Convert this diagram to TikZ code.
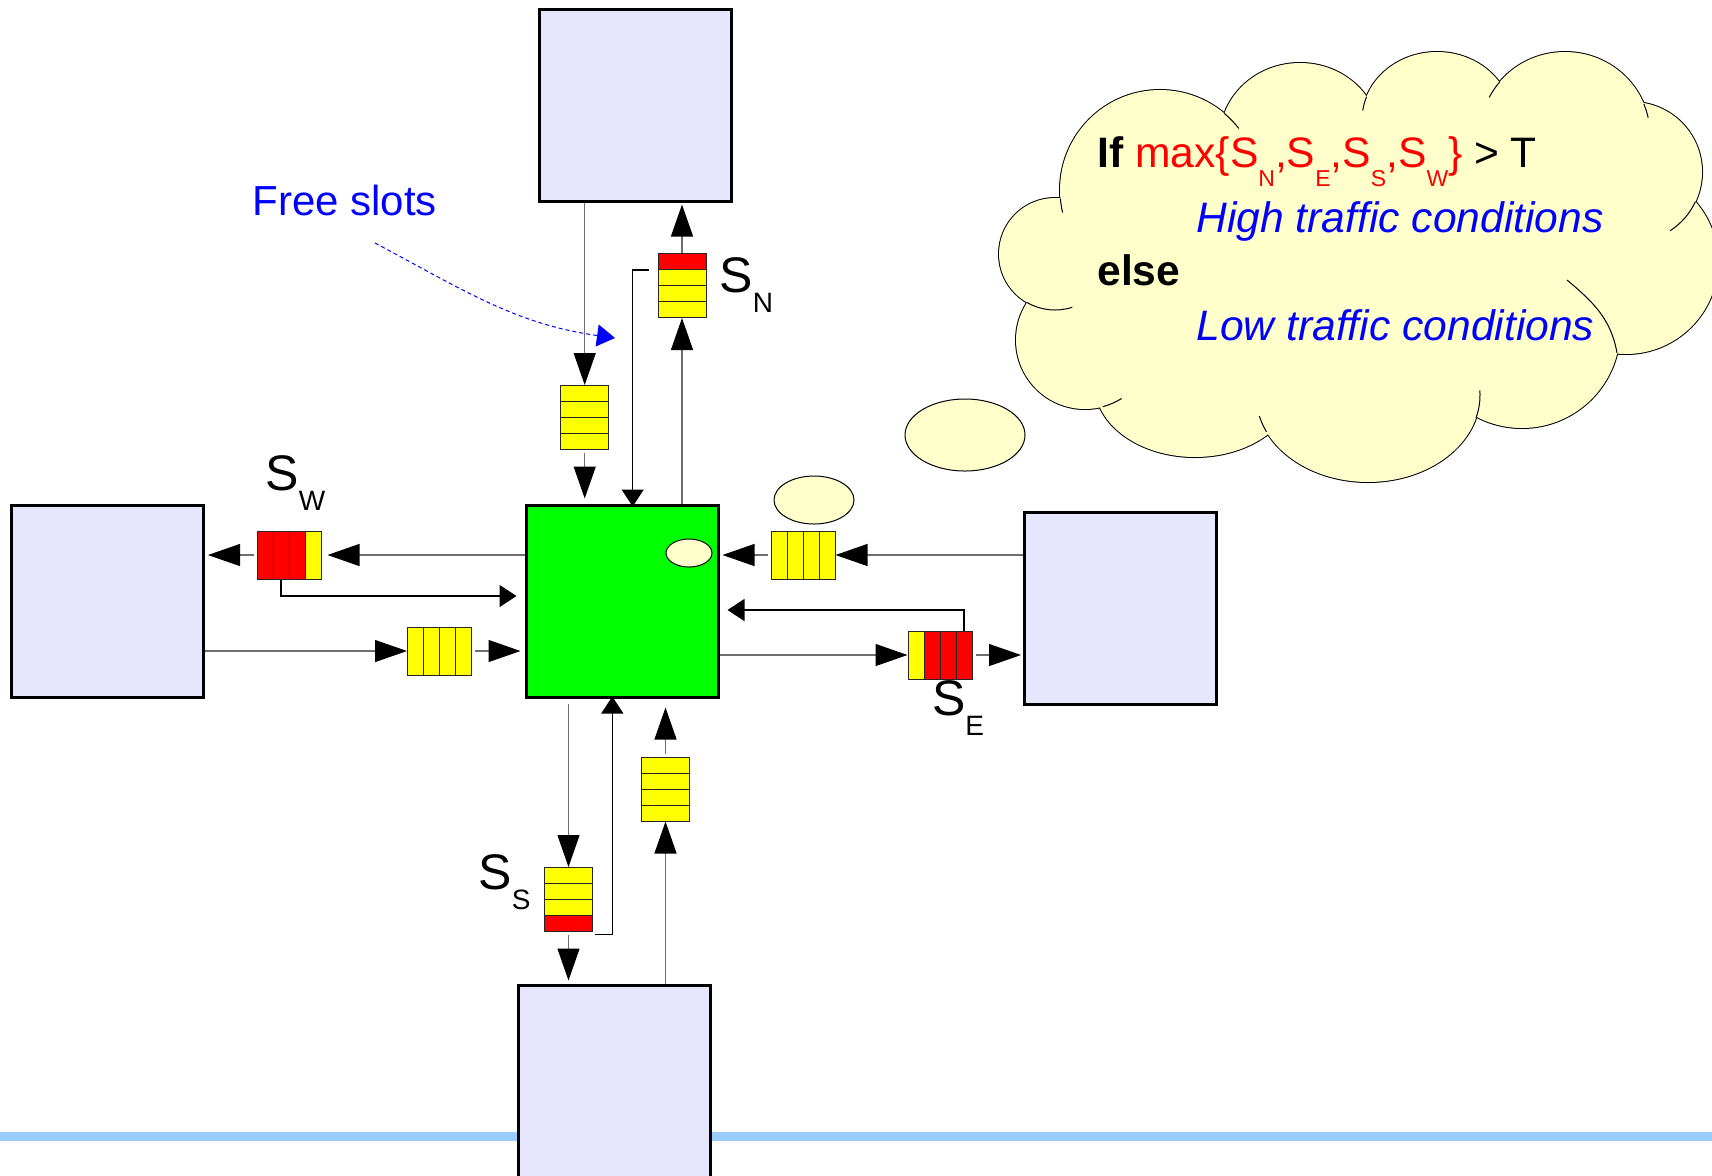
\documentclass[tikz,border=0pt]{standalone}
\usepackage{fontspec}
\setmainfont{Liberation Sans}
\usetikzlibrary{arrows.meta}
\definecolor{lav}{HTML}{E6E6FF}
\definecolor{grn}{HTML}{00FF00}
\definecolor{qy}{HTML}{FFFF00}
\definecolor{qr}{HTML}{FF0000}
\definecolor{cloudy}{HTML}{FFFFCC}
\definecolor{barblue}{HTML}{99CCFF}
\definecolor{fgblue}{HTML}{0000FF}
\definecolor{flowgray}{HTML}{6E6E6E}
\newcommand{\lsub}[1]{\raisebox{-10pt}{\fontsize{14}{14}\selectfont #1}}
\newcommand{\csub}[1]{\raisebox{-9.5pt}{\fontsize{11.5}{11.5}\selectfont #1}}
\newcommand{\vqueue}[7]{%
  \node[slot,fill=#4,minimum width=24pt,minimum height=8pt] (#1-1) at (#2,#3-24) {};
  \node[slot,fill=#5,minimum width=24pt,minimum height=8pt] (#1-2) at (#2,#3-8) {};
  \node[slot,fill=#6,minimum width=24pt,minimum height=8pt] (#1-3) at (#2,#3+8) {};
  \node[slot,fill=#7,minimum width=24pt,minimum height=8pt] (#1-4) at (#2,#3+24) {};
  \node[qframe,minimum width=24pt,minimum height=32pt] (#1) at (#2,#3) {};}
\newcommand{\hqueue}[7]{%
  \node[slot,fill=#4,minimum width=8pt,minimum height=24pt] (#1-1) at (#2-24,#3) {};
  \node[slot,fill=#5,minimum width=8pt,minimum height=24pt] (#1-2) at (#2-8,#3) {};
  \node[slot,fill=#6,minimum width=8pt,minimum height=24pt] (#1-3) at (#2+8,#3) {};
  \node[slot,fill=#7,minimum width=8pt,minimum height=24pt] (#1-4) at (#2+24,#3) {};
  \node[qframe,minimum width=32pt,minimum height=24pt] (#1) at (#2,#3) {};}
\tikzset{
  box/.style={draw=black,line width=1.5pt,fill=lav,minimum width=96pt,minimum height=96pt,inner sep=0pt},
  slot/.style={draw=black!85,line width=0.5pt,inner sep=0pt,rectangle},
  qframe/.style={draw=black!85,line width=0.5pt,inner sep=0pt,rectangle},
  flow/.style={draw=flowgray,line width=0.6pt,-{Triangle[length=16pt,width=11pt,color=black]}},
  fb/.style={draw=black,line width=0.6pt,-{Triangle[length=8.5pt,width=11pt]}},
  lbl/.style={anchor=base west,inner sep=0pt,font=\fontsize{25}{30}\selectfont},
  ctext/.style={anchor=base west,inner sep=0pt,font=\fontsize{21.3}{25}\selectfont},
  bubble/.style={draw=black,line width=0.5pt,fill=cloudy},
  cusp/.style={draw=black,line width=0.5pt}
}
\begin{document}
\begin{tikzpicture}[x=0.5pt,y=-0.5pt]
\useasboundingbox[fill=white] (0,0) rectangle (1712,1175);
% bottom bar
\coordinate (barL) at (0,1136.5);
\coordinate (barR) at (1712,1136.5);
\draw[barblue,line width=4.5pt] (barL) -- (barR);
% thought cloud: outline = union of bumps
\def\bumps{1055/254/28/28,1160/190/50/50,1300/138/40/37.5,1437/120/37.5/34,1565/135/42.5/41.5,1632/172/35/35,1626/262/46/46,1522/330/49/49,1368/395/56/43.5,1195/385/50/36,1085/340/34.5/34.5}
\foreach \cx/\cy/\rx/\ry in \bumps
  \draw[black,line width=1pt] (\cx,\cy) ellipse [x radius=\rx pt,y radius=\ry pt];
\foreach \cx/\cy/\rx/\ry in \bumps
  \fill[cloudy] (\cx,\cy) ellipse [x radius=\rx pt,y radius=\ry pt];
\fill[cloudy] (1070,230) -- (1100,330) -- (1180,370) -- (1300,390) -- (1470,370) -- (1600,320) -- (1660,230) -- (1620,140) -- (1480,110) -- (1360,120) -- (1230,130) -- (1110,180) -- cycle;
% inner ends of the bump arcs
\draw[cusp] (1160,190) ++(185:50pt) arc[start angle=185,end angle=193,radius=50pt];
\draw[cusp] (1160,190) ++(50:50pt) arc[start angle=50,end angle=38,radius=50pt];
\draw[cusp] (1437,120) ++(160:37.5pt and 34pt) arc[start angle=160,end angle=172,x radius=37.5pt,y radius=34pt];
\draw[cusp] (1565,135) ++(140:42.5pt and 41.5pt) arc[start angle=140,end angle=153,x radius=42.5pt,y radius=41.5pt];
\draw[cusp] (1565,135) ++(22:42.5pt and 41.5pt) arc[start angle=22,end angle=12,x radius=42.5pt,y radius=41.5pt];
\draw[cusp] (1632,172) ++(-25:35pt) arc[start angle=-25,end angle=-57,radius=35pt];
\coordinate (brA) at (1617,353);
\coordinate (brB) at (1567,280);
\draw[cusp] (brA) to[out=100,in=-40] (brB);
\draw[cusp] (1368,395) ++(-15.5:56pt and 43.5pt) arc[start angle=-15.5,end angle=3,x radius=56pt,y radius=43.5pt];
\draw[cusp] (1368,395) ++(-155:56pt and 43.5pt) arc[start angle=-155,end angle=-166,x radius=56pt,y radius=43.5pt];
\draw[cusp] (1085,340) ++(-75:34.5pt) arc[start angle=-75,end angle=-58,radius=34.5pt];
\draw[cusp] (1055,254) ++(-120:28pt) arc[start angle=-120,end angle=-72,radius=28pt];
\draw[bubble] (965,435) ellipse [x radius=30pt,y radius=18pt];
\draw[bubble] (814,500) ellipse [x radius=20pt,y radius=12pt];
% cloud text
\node[ctext] (c1) at (1097,167) {\textbf{If} \textcolor{qr}{max\{S\csub{N},S\csub{E},S\csub{S},S\csub{W}\}} > T};
\node[ctext,text=fgblue] (c2) at (1196,232) {\itshape High traffic conditions};
\node[ctext] (c3) at (1097,285) {\textbf{else}};
\node[ctext,text=fgblue] (c4) at (1196,340) {\itshape Low traffic conditions};
% boxes
\node[box] (bN) at (635,105) {};
\node[box] (bW) at (107.5,601.5) {};
\node[box] (bE) at (1120.5,608.5) {};
\node[box] (bS) at (614.5,1081) {};
\node[box,fill=grn] (G) at (622,601) {};
\draw[bubble] (689,553) ellipse [x radius=11.5pt,y radius=7pt];
% queues
\vqueue{qNin}{584.7}{417.5}{qy}{qy}{qy}{qy}
\vqueue{qN}{682}{285.5}{qr}{qy}{qy}{qy}
\hqueue{qW}{289}{555}{qr}{qr}{qr}{qy}
\hqueue{qWin}{439.5}{651}{qy}{qy}{qy}{qy}
\hqueue{qEin}{803}{555}{qy}{qy}{qy}{qy}
\hqueue{qE}{940}{655}{qy}{qr}{qr}{qr}
\vqueue{qS}{568.5}{899.5}{qy}{qy}{qy}{qr}
\vqueue{qSin}{665.5}{789}{qy}{qy}{qy}{qy}
% north connectors
\draw[flow] (qNin.north |- bN.south) -- (qNin.north);
\draw[flow,shorten <=1.5pt,shorten >=2.5pt] (qNin.south) -- (qNin.south |- G.north);
\draw[flow] (qN.south |- G.north) -- (qN.south);
\draw[flow,shorten >=1pt] (qN.north) -- (qN.north |- bN.south);
\draw[fb] ([xshift=-4.5pt]qN-1.south west) -| ([xshift=5.35pt,yshift=-1.5pt]G.north);
% west connectors
\draw[flow,shorten >=3pt] (qW.east -| G.west) -- (qW.east);
\draw[flow,shorten <=1.5pt,shorten >=1.5pt] (qW.west) -- (qW.west -| bW.east);
\draw[fb,shorten >=4pt] (qW-2.south) |- ([yshift=2.5pt]G.west);
\draw[flow] (qWin.west -| bW.east) -- (qWin.west);
\draw[flow,shorten <=1.5pt,shorten >=2pt] (qWin.east) -- (qWin.east -| G.west);
% east connectors
\draw[flow] (qEin.east -| bE.west) -- (qEin.east);
\draw[flow,shorten <=1.5pt,shorten >=1.5pt] (qEin.west) -- (qEin.west -| G.east);
\draw[fb,shorten >=4pt] (qE-4.north) |- ([yshift=-4.5pt]G.east);
\draw[flow] (qE.west -| G.east) -- (qE.west);
\draw[flow,shorten <=1.5pt,shorten >=1pt] (qE.east) -- (qE.east -| bE.west);
% south connectors
\draw[flow,shorten <=2.5pt] (qS.north |- G.south) -- (qS.north);
\draw[flow,shorten <=1.5pt,shorten >=1.5pt] (qS.south) -- (qS.south |- bS.north);
\draw[fb] ([xshift=1pt,yshift=-1.3pt]qS.south east) -| ([xshift=-4.85pt,yshift=1pt]G.south);
\draw[flow] (qSin.south |- bS.north) -- (qSin.south);
\draw[flow,shorten <=1.5pt,shorten >=4.5pt] (qSin.north) -- (qSin.north |- G.south);
% labels
\node[lbl] (lSN) at (719,292) {S\lsub{N}};
\node[lbl] (lSW) at (265,490) {S\lsub{W}};
\node[lbl] (lSE) at (931.7,715) {S\lsub{E}};
\node[lbl] (lSS) at (478,889) {S\lsub{S}};
% free slots
\node[ctext,font=\fontsize{21}{25}\selectfont,text=fgblue] (fs) at (252,215) {Free slots};
\coordinate (fsA) at (375,243);
\coordinate (fsB) at (615,338);
\draw[fgblue,line width=0.5pt,dash pattern=on 2pt off 1.5pt,-{Triangle[length=9pt,width=11pt]}] (fsA) to[out=-28,in=172] (fsB);
\end{tikzpicture}
\end{document}
